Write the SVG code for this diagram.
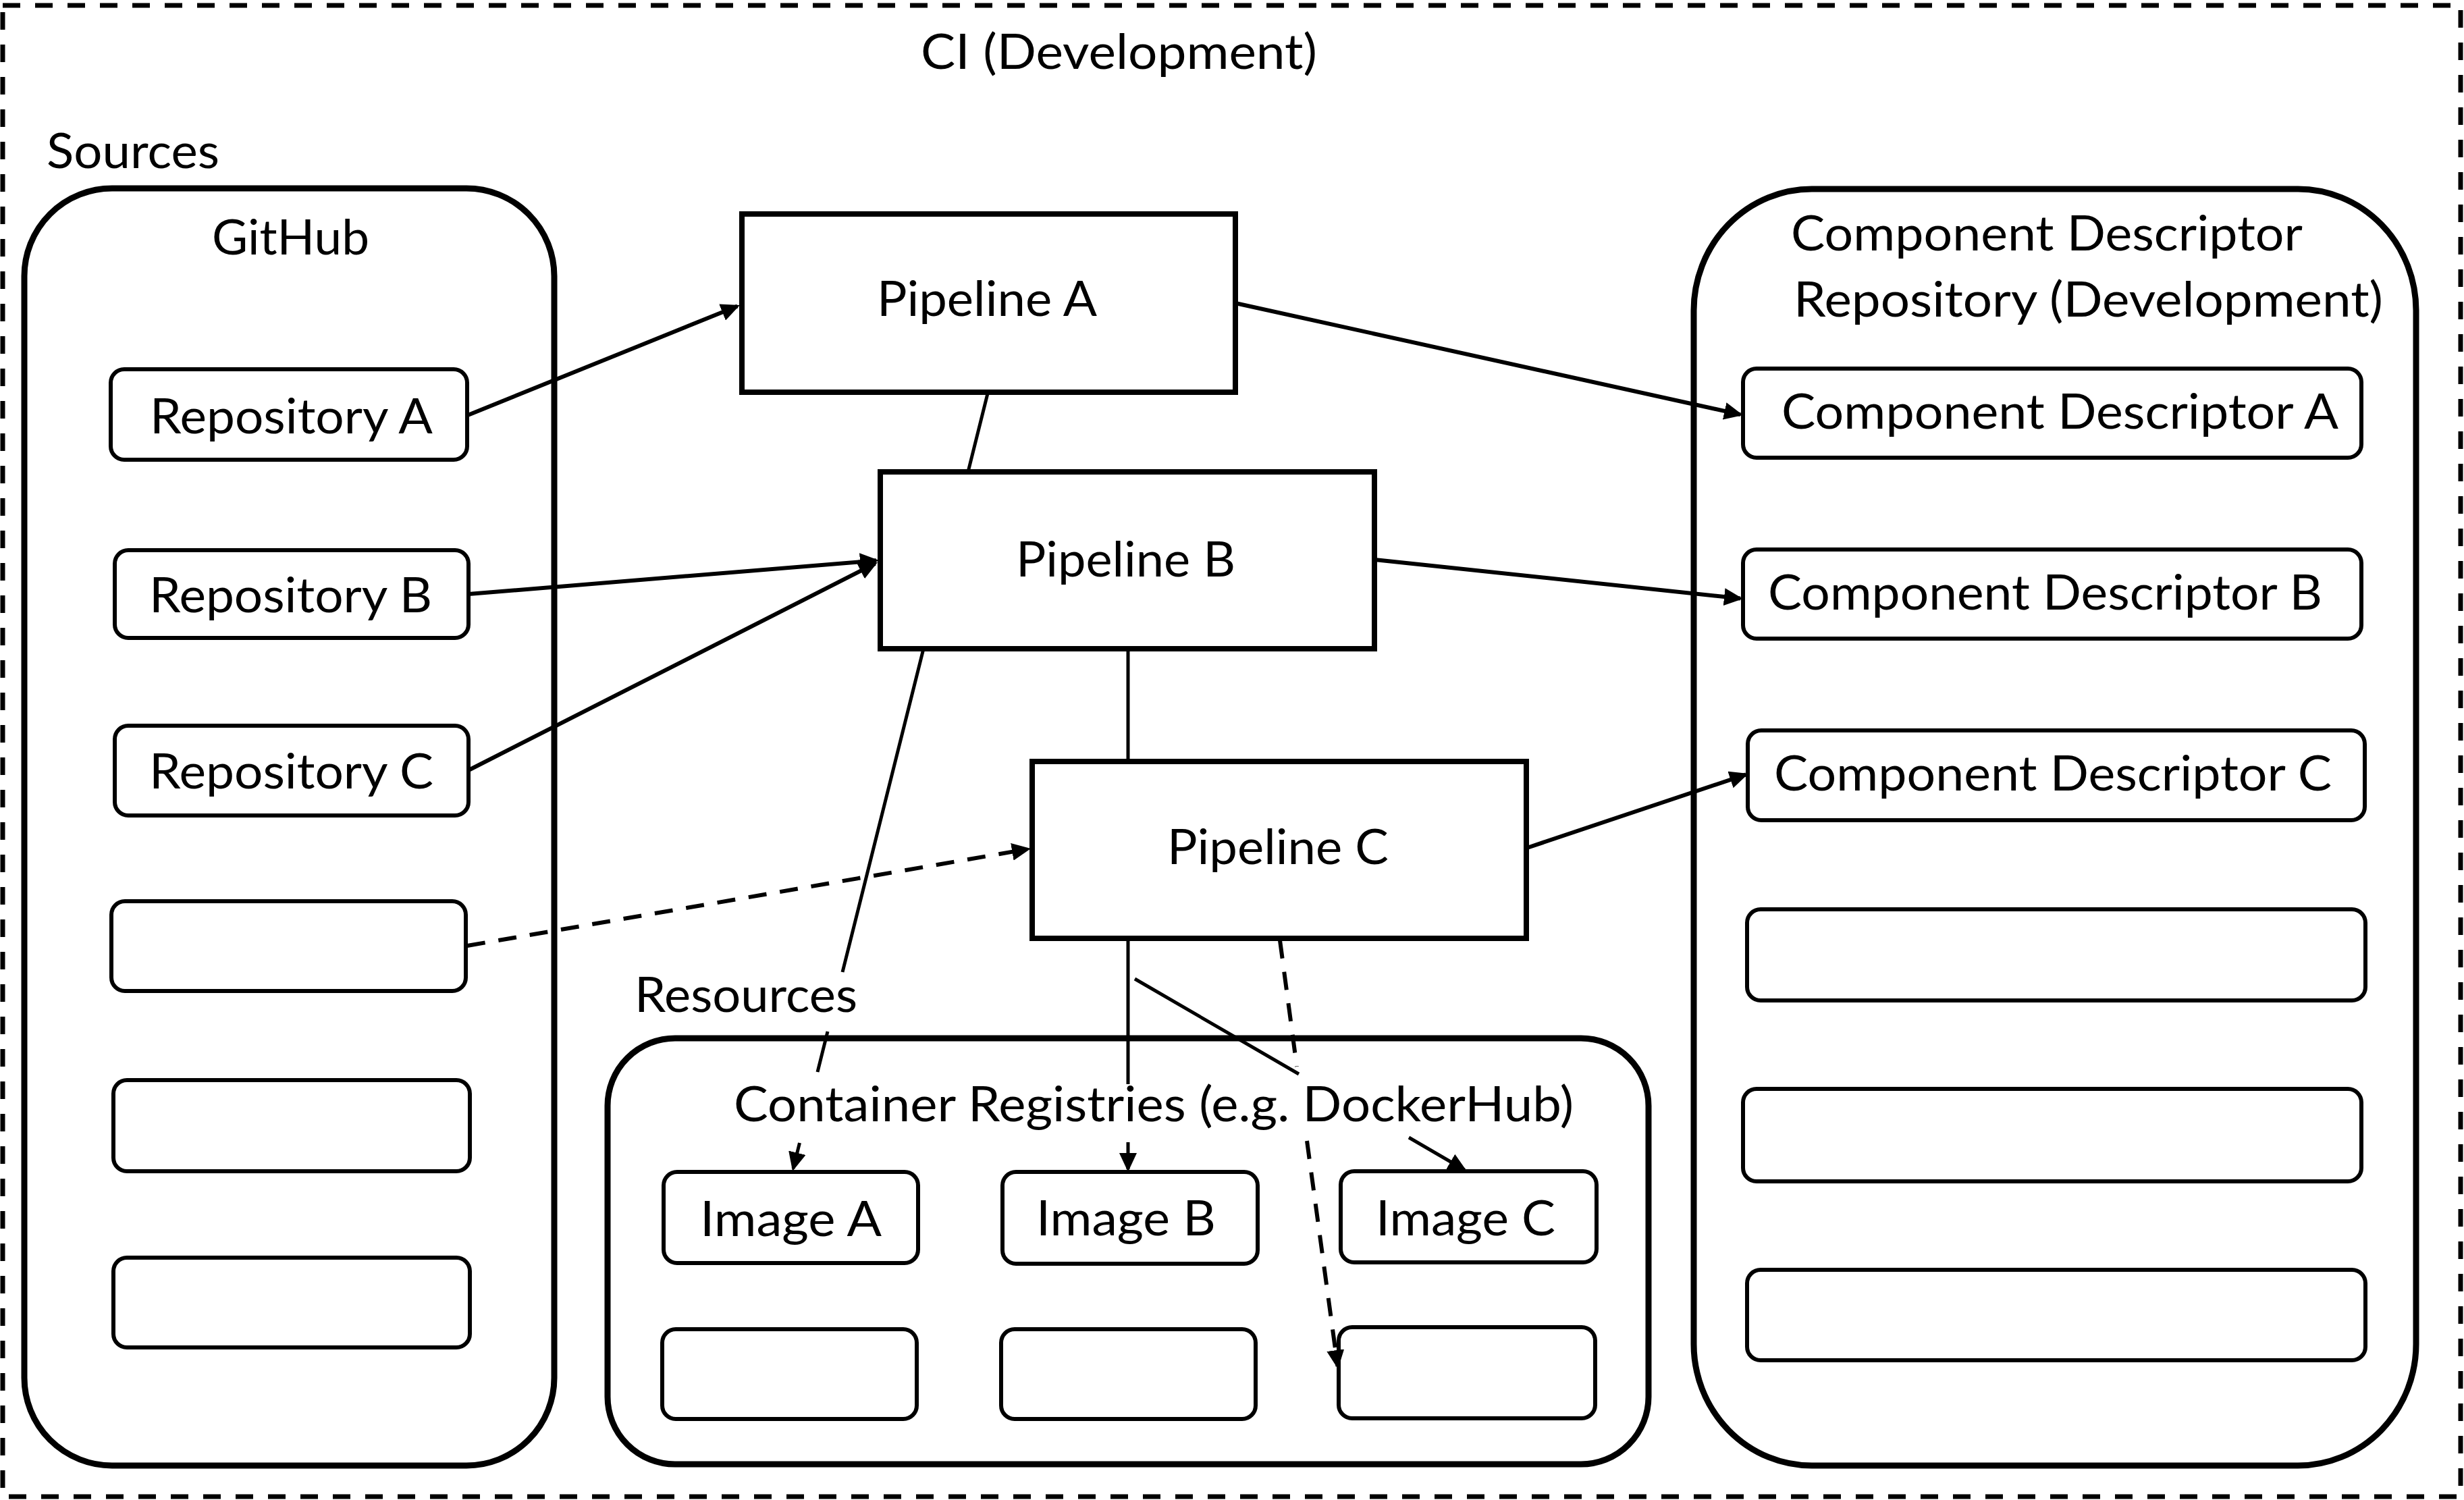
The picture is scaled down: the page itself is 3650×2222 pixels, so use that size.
<svg xmlns="http://www.w3.org/2000/svg" width="3650" height="2222" viewBox="0 0 3650 2222">
<style>
.t{font-family:Lato,"Open Sans","Liberation Sans",sans-serif;font-size:72px;fill:#000}
.box{fill:none;stroke:#000;stroke-width:6}
.pipe{fill:#fff;stroke:#000;stroke-width:8}
.cont{fill:none;stroke:#000;stroke-width:9}
.ln{fill:none;stroke:#000;stroke-width:6}
.thin{fill:none;stroke:#000;stroke-width:5}
.dash{fill:none;stroke:#000;stroke-width:6;stroke-dasharray:27 20}
.arr{marker-end:url(#ah)}
</style>
<defs>
<marker id="ah" markerUnits="userSpaceOnUse" viewBox="0 0 28 26" markerWidth="28" markerHeight="26" refX="24" refY="13" orient="auto">
<path d="M0,0 L28,13 L0,26 z" fill="#000"/>
</marker>
</defs>
<rect width="3650" height="2222" fill="#fff"/>
<g id="ci">
<rect x="4" y="8" width="3641" height="2209" fill="none" stroke="#000" stroke-width="7" stroke-dasharray="26 22"/>
<text class="t" x="1364" y="102" textLength="587" lengthAdjust="spacingAndGlyphs">CI (Development)</text>
</g>
<g id="sources">
<text class="t" x="69" y="249" textLength="256" lengthAdjust="spacingAndGlyphs">Sources</text>
<rect class="cont" x="36" y="279" width="785" height="1892" rx="130" ry="130"/>
<text class="t" x="314" y="377" textLength="233" lengthAdjust="spacingAndGlyphs">GitHub</text>
</g>
<g id="repo-a"><rect class="box" x="164" y="547" width="528" height="134" rx="20"/><text class="t" x="222" y="642" textLength="419" lengthAdjust="spacingAndGlyphs">Repository A</text></g>
<g id="repo-b"><rect class="box" x="170" y="815" width="524" height="130" rx="20"/><text class="t" x="221" y="907" textLength="419" lengthAdjust="spacingAndGlyphs">Repository B</text></g>
<g id="repo-c"><rect class="box" x="170" y="1075" width="524" height="133" rx="20"/><text class="t" x="221" y="1168" textLength="421" lengthAdjust="spacingAndGlyphs">Repository C</text></g>
<g id="repo-e1"><rect class="box" x="165" y="1335" width="525" height="133" rx="20"/></g>
<g id="repo-e2"><rect class="box" x="168" y="1600" width="528" height="135" rx="20"/></g>
<g id="repo-e3"><rect class="box" x="168" y="1863" width="528" height="133" rx="20"/></g>
<g id="cdrepo">
<rect class="cont" x="2509" y="280" width="1070" height="1891" rx="175" ry="180"/>
<text class="t" x="2653" y="371" textLength="758" lengthAdjust="spacingAndGlyphs">Component Descriptor</text>
<text class="t" x="2657" y="469" textLength="873" lengthAdjust="spacingAndGlyphs">Repository (Development)</text>
</g>
<g id="cd-a"><rect class="box" x="2582" y="546" width="916" height="132" rx="20"/><text class="t" x="2639" y="635" textLength="825" lengthAdjust="spacingAndGlyphs">Component Descriptor A</text></g>
<g id="cd-b"><rect class="box" x="2582" y="814" width="916" height="132" rx="20"/><text class="t" x="2619" y="903" textLength="821" lengthAdjust="spacingAndGlyphs">Component Descriptor B</text></g>
<g id="cd-c"><rect class="box" x="2589" y="1082" width="914" height="133" rx="20"/><text class="t" x="2628" y="1171" textLength="826" lengthAdjust="spacingAndGlyphs">Component Descriptor C</text></g>
<g id="cd-e1"><rect class="box" x="2588" y="1347" width="916" height="135" rx="20"/></g>
<g id="cd-e2"><rect class="box" x="2582" y="1613" width="916" height="137" rx="20"/></g>
<g id="cd-e3"><rect class="box" x="2588" y="1881" width="916" height="134" rx="20"/></g>
<g id="resources">
<text class="t" x="940" y="1499" textLength="330" lengthAdjust="spacingAndGlyphs">Resources</text>
<rect class="cont" x="900" y="1538" width="1542" height="631" rx="100" ry="100"/>
<text class="t" x="1087" y="1661" textLength="1244" lengthAdjust="spacingAndGlyphs">Container Registries (e.g. DockerHub)</text>
</g>
<g id="image-a"><rect class="box" x="983" y="1736" width="377" height="135" rx="20"/><text class="t" x="1037" y="1831" textLength="269" lengthAdjust="spacingAndGlyphs">Image A</text></g>
<g id="image-b"><rect class="box" x="1485" y="1736" width="378" height="136" rx="20"/><text class="t" x="1535" y="1830" textLength="266" lengthAdjust="spacingAndGlyphs">Image B</text></g>
<g id="image-c"><rect class="box" x="1986" y="1735" width="379" height="135" rx="20"/><text class="t" x="2038" y="1830" textLength="266" lengthAdjust="spacingAndGlyphs">Image C</text></g>
<g id="image-ea"><rect class="box" x="981" y="1969" width="377" height="133" rx="20"/></g>
<g id="image-eb"><rect class="box" x="1483" y="1969" width="377" height="133" rx="20"/></g>
<g id="image-ec"><rect class="box" x="1983" y="1966" width="380" height="135" rx="20"/></g>
<g id="pipeline-a"><rect class="pipe" x="1099" y="317" width="731" height="264"/><text class="t" x="1299" y="468" textLength="326" lengthAdjust="spacingAndGlyphs">Pipeline A</text></g>
<g id="pipeline-b"><rect class="pipe" x="1304" y="699" width="732" height="262"/><text class="t" x="1505" y="854" textLength="325" lengthAdjust="spacingAndGlyphs">Pipeline B</text></g>
<g id="pipeline-c"><rect class="pipe" x="1529" y="1128" width="732" height="262"/><text class="t" x="1729" y="1280" textLength="328" lengthAdjust="spacingAndGlyphs">Pipeline C</text></g>
<g id="connectors">
<path class="ln arr" d="M693,615 L1092.3,453.5"/>
<path class="ln arr" d="M1830,449 L2578.1,614.1"/>
<path class="ln arr" d="M694,880 L1298,830.3"/>
<path class="ln arr" d="M694,1141 L1296.4,834.8"/>
<path class="ln arr" d="M2036,829 L2578,886.6"/>
<path class="ln arr" d="M2262,1256 L2586.2,1147.3"/>
<path class="thin" d="M1463,583 L1434,699"/>
<path class="thin" d="M1671,961 L1671,1128"/>
<path class="thin arr" d="M1368,961 L1248,1440 M1226,1528 L1211,1588 M1184.5,1693 L1175,1731"/>
<path class="thin arr" d="M1671,1390 L1671,1606 M1671,1692 L1671,1732"/>
<path class="thin arr" d="M1681,1450 L1924,1591 M2087,1685 L2169.5,1733"/>
<path class="dash arr" d="M1896,1393 L1921,1580 M1936,1690 L1981.5,2024"/>
<path class="dash arr" d="M692,1401 L1523,1257.7"/>
</g>
</svg>
